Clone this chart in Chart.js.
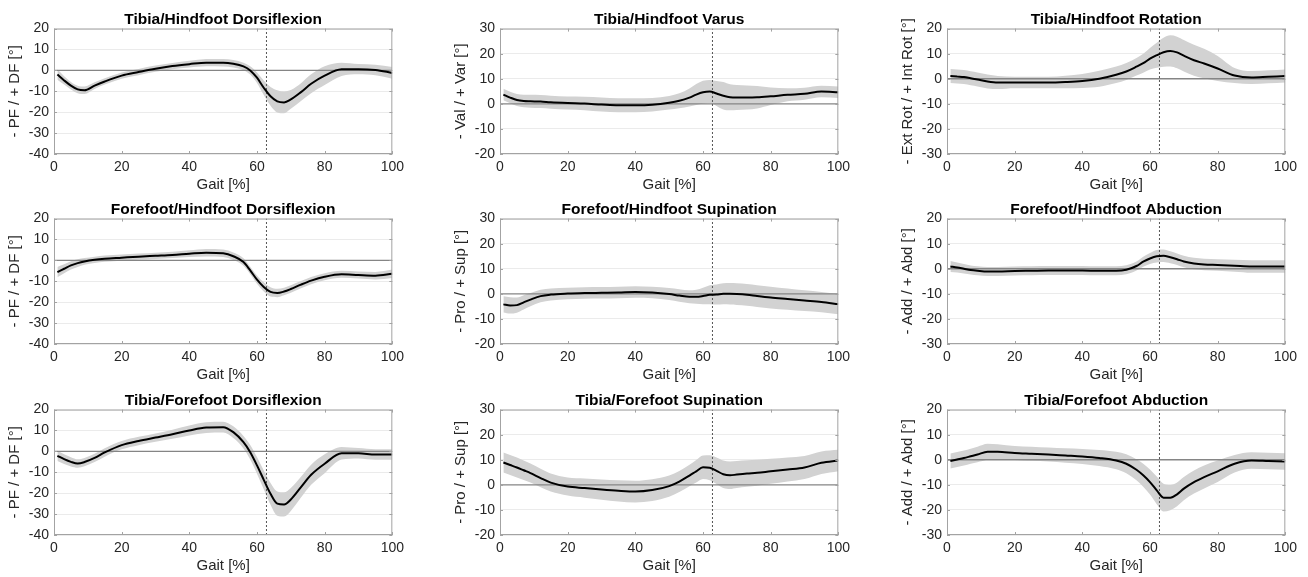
<!DOCTYPE html>
<html>
<head>
<meta charset="utf-8">
<title>Foot kinematics</title>
<script src="https://cdn.jsdelivr.net/npm/chart.js@4.4.0/dist/chart.umd.min.js"></script>
<style>
	body { margin: 0; background: #fff; width: 1308px; height: 577px; position: relative; overflow: hidden; }
	.panel { position: absolute; }
</style>
</head>
<body>
<script>
// gait cycle samples (% of stride)
var gaitPct = [1, 3, 5, 7, 9, 12, 15, 20, 25, 30, 35, 40, 45, 50, 53, 56, 58, 60, 62, 64, 66, 68, 70, 73, 76, 80, 85, 90, 95, 100];
var toeOffPct = 62.8;
var xTicks = [0, 20, 40, 60, 80, 100];

var titles = [
	"Tibia/Hindfoot Dorsiflexion", "Tibia/Hindfoot Varus", "Tibia/Hindfoot Rotation",
	"Forefoot/Hindfoot Dorsiflexion", "Forefoot/Hindfoot Supination", "Forefoot/Hindfoot Abduction",
	"Tibia/Forefoot Dorsiflexion", "Tibia/Forefoot Supination", "Tibia/Forefoot Abduction"
];
var yLabels = [
	"- PF / + DF [°]", "- Val / + Var [°]", "- Ext Rot / + Int Rot [°]",
	"- PF / + DF [°]", "- Pro / + Sup [°]", "- Add / + Abd [°]",
	"- PF / + DF [°]", "- Pro / + Sup [°]", "- Add / + Abd [°]"
];
var yMins = [-40, -20, -30, -40, -20, -30, -40, -20, -30];
var yMaxs = [20, 30, 20, 20, 30, 20, 20, 30, 20];

// mean curves and standard deviation (degrees)
var thDfMean = [-2, -4.8, -7.3, -9.1, -9.5, -7.3, -5.3, -2.5, -0.8, 0.8, 2.1, 3.0, 3.7, 3.7, 3.2, 1.9, 0, -3.5, -8.3, -12.4, -14.8, -15.3, -13.9, -10.4, -6.4, -2.5, 0.5, 0.6, 0.2, -1.2];
var thDfSd = [2.5, 2, 1.8, 1.8, 1.8, 1.6, 1.5, 1.5, 1.5, 1.5, 1.5, 1.6, 1.7, 1.8, 1.8, 1.8, 2, 2.5, 3.5, 4.5, 5.3, 5.2, 4.5, 4.3, 4.5, 4.5, 3.2, 2.5, 2.5, 2.8];

var thVarMean = [3.7, 2.5, 1.5, 1.1, 1.0, 0.9, 0.6, 0.3, 0.1, -0.3, -0.6, -0.6, -0.4, 0.4, 1.2, 2.5, 3.7, 4.6, 4.9, 4.1, 3.2, 2.6, 2.5, 2.5, 2.6, 3.0, 3.6, 4.0, 4.9, 4.6];
var thVarSd = [2.3, 2.3, 2.4, 2.5, 2.6, 2.6, 2.6, 2.6, 2.7, 2.8, 2.8, 2.8, 2.7, 2.7, 3, 3.6, 4.2, 4.6, 4.6, 5, 5.5, 5.2, 5, 4.8, 4.5, 3.5, 2.6, 2.4, 2.3, 2.3];

var thRotMean = [1.1, 0.9, 0.7, 0.2, -0.3, -1.1, -1.5, -1.5, -1.5, -1.5, -1.3, -0.9, 0, 1.6, 2.9, 4.8, 6.2, 8.0, 9.4, 10.6, 11.1, 10.5, 9.2, 7.4, 6.1, 4.1, 1.3, 0.5, 0.8, 1.1];
var thRotSd = [2.8, 2.8, 2.8, 2.8, 2.8, 2.8, 2.6, 2.3, 2.3, 2.3, 2.5, 2.8, 3.2, 3.3, 3.4, 3.5, 3.8, 4.3, 5, 5.8, 6.2, 6.3, 6.3, 6.2, 5.9, 5, 3, 2.6, 2.6, 2.6];

var fhDfMean = [-5.6, -4.0, -2.4, -1.3, -0.5, 0.3, 0.8, 1.3, 1.8, 2.2, 2.6, 3.2, 3.7, 3.4, 2.0, -0.8, -4.8, -9.2, -12.7, -15.1, -15.6, -14.9, -13.7, -11.6, -9.7, -7.8, -6.6, -7.0, -7.3, -6.4];
var fhDfSd = [2.5, 2.2, 2, 1.8, 1.6, 1.5, 1.5, 1.5, 1.5, 1.5, 1.5, 1.6, 1.8, 1.8, 1.8, 1.8, 1.8, 2, 2.2, 2.2, 2, 1.8, 1.8, 1.7, 1.7, 1.7, 1.7, 1.7, 1.8, 2];

var fhSupMean = [-4.2, -4.6, -4.5, -3.4, -2.3, -0.9, -0.3, 0.1, 0.3, 0.4, 0.5, 0.7, 0.5, -0.1, -0.7, -1.2, -1.2, -0.9, -0.4, -0.3, 0, 0, -0.1, -0.4, -0.9, -1.5, -2.1, -2.7, -3.3, -4.1];
var fhSupSd = [3.2, 3.2, 3, 2.8, 2.6, 2.5, 2.4, 2.3, 2.3, 2.3, 2.3, 2.3, 2.3, 2.4, 2.5, 2.6, 2.8, 3.3, 3.8, 4, 4.2, 4.3, 4.3, 4.3, 4.3, 4.3, 4.2, 4.1, 4, 4];

var fhAbdMean = [0.9, 0.5, 0, -0.5, -0.8, -1.1, -1.1, -0.9, -0.8, -0.7, -0.7, -0.7, -0.8, -0.8, -0.4, 1.1, 2.8, 4.1, 5.0, 5.2, 4.6, 3.8, 2.9, 2.1, 1.7, 1.5, 1.2, 0.9, 0.9, 0.9];
var fhAbdSd = [2.2, 2, 1.9, 1.8, 1.8, 1.8, 1.8, 1.8, 1.8, 1.8, 1.8, 1.8, 1.8, 1.8, 1.8, 1.8, 2, 2.2, 2.5, 2.5, 2.4, 2.3, 2.3, 2.3, 2.3, 2.3, 2.4, 2.5, 2.5, 2.5];

var tfDfMean = [-2.1, -3.7, -5.0, -5.8, -5.1, -3.1, -0.5, 3.0, 5.0, 6.6, 8.2, 10.0, 11.4, 11.6, 9.2, 4.4, -0.4, -6.7, -13.6, -20.3, -25.0, -25.4, -23.0, -17.1, -11.2, -5.9, -0.9, -0.9, -1.5, -1.5];
var tfDfSd = [2.5, 2.3, 2.2, 2, 2, 2, 2, 2, 2, 2, 2.2, 2.4, 2.6, 2.6, 2.8, 3, 3.5, 4, 4.5, 5.2, 5.8, 5.8, 5.5, 5, 4.8, 4.5, 3, 2.5, 2.5, 2.5];

var tfSupMean = [8.9, 7.9, 6.9, 5.8, 4.7, 2.7, 0.9, -0.7, -1.3, -1.9, -2.4, -2.7, -2.1, -0.5, 1.3, 3.7, 5.4, 7.0, 6.8, 5.6, 4.2, 3.8, 4.1, 4.5, 4.8, 5.4, 6.1, 6.9, 8.8, 9.7];
var tfSupSd = [4, 4, 4, 3.9, 3.8, 3.7, 3.6, 3.6, 3.8, 4, 4.2, 4.3, 4.3, 4.2, 4.2, 4.3, 4.5, 4.7, 5, 5.3, 5.5, 5.5, 5.4, 5.3, 5.2, 5, 4.8, 4.6, 4.5, 4.3];

var tfAbdMean = [-0.5, 0.1, 0.7, 1.4, 2.1, 3.2, 3.2, 2.7, 2.4, 2.1, 1.7, 1.3, 0.7, -0.3, -1.6, -4.0, -6.2, -8.9, -12.2, -15.1, -15.1, -13.8, -11.5, -8.9, -6.9, -4.6, -1.6, -0.3, -0.5, -0.7];
var tfAbdSd = [3, 3, 3, 3, 3.1, 3.2, 3, 2.8, 2.8, 2.8, 2.9, 3, 3.2, 3.5, 3.8, 4.2, 4.6, 5, 5.5, 5.5, 5, 4.7, 4.6, 4.6, 4.6, 4.3, 3.5, 3.3, 3.3, 3.3];

var means = [thDfMean, thVarMean, thRotMean, fhDfMean, fhSupMean, fhAbdMean, tfDfMean, tfSupMean, tfAbdMean];
var sds = [thDfSd, thVarSd, thRotSd, fhDfSd, fhSupSd, fhAbdSd, tfDfSd, tfSupSd, tfAbdSd];

// grid placement of the nine panels
var colLeft = [0, 446, 893];
var rowTop = [0, 190, 381];
var panelW = 409, panelH = 195;
var fontFamily = "'Liberation Sans', Arial, Helvetica, sans-serif";

// axes box with small inward ticks, like MATLAB "box on"
var boxPlugin = {
	id: "axesBox",
	afterDraw: function(chart) {
		var a = chart.chartArea, c = chart.ctx;
		var xs = chart.scales.x, ys = chart.scales.y;
		c.save();
		c.strokeStyle = "#a3a3a3";
		c.lineWidth = 1;
		c.strokeRect(a.left + 0.5, a.top + 0.5, a.right - a.left - 1, a.bottom - a.top - 1);
		c.beginPath();
		xs.ticks.forEach(function(t) {
			var px = Math.round(xs.getPixelForValue(t.value)) + 0.5;
			c.moveTo(px, a.top); c.lineTo(px, a.top + 3);
			c.moveTo(px, a.bottom); c.lineTo(px, a.bottom - 3);
		});
		ys.ticks.forEach(function(t) {
			var py = Math.round(ys.getPixelForValue(t.value)) + 0.5;
			c.moveTo(a.left, py); c.lineTo(a.left + 3, py);
			c.moveTo(a.right, py); c.lineTo(a.right - 3, py);
		});
		c.stroke();
		c.restore();
	}
};

for (var p = 0; p < 9; p++) {
	var div = document.createElement("div");
	div.className = "panel";
	div.style.left = colLeft[p % 3] + "px";
	div.style.top = rowTop[Math.floor(p / 3)] + "px";
	div.style.width = panelW + "px";
	div.style.height = panelH + "px";
	var canvas = document.createElement("canvas");
	canvas.width = panelW;
	canvas.height = panelH;
	div.appendChild(canvas);
	document.body.appendChild(div);

	var mean = means[p], sd = sds[p];
	var meanPts = [], upPts = [], loPts = [];
	for (var i = 0; i < gaitPct.length; i++) {
		meanPts.push({x: gaitPct[i], y: mean[i]});
		upPts.push({x: gaitPct[i], y: mean[i] + sd[i]});
		loPts.push({x: gaitPct[i], y: mean[i] - sd[i]});
	}

	var data = {
		datasets: [
			{
				label: "mean",
				data: meanPts,
				borderColor: "#000",
				borderWidth: 2,
				pointRadius: 0,
				cubicInterpolationMode: "monotone",
				fill: false,
				order: 0
			},
			{
				label: "toe off",
				data: [{x: toeOffPct, y: yMins[p]}, {x: toeOffPct, y: yMaxs[p]}],
				borderColor: "#555",
				borderWidth: 1,
				borderDash: [2, 2],
				pointRadius: 0,
				fill: false,
				order: 1
			},
			{
				label: "zero",
				data: [{x: 0, y: 0}, {x: 100, y: 0}],
				borderColor: "#858585",
				borderWidth: 1.3,
				pointRadius: 0,
				fill: false,
				order: 2
			},
			{
				label: "+1 SD",
				data: upPts,
				borderColor: "rgba(0,0,0,0)",
				borderWidth: 0,
				pointRadius: 0,
				cubicInterpolationMode: "monotone",
				backgroundColor: "#d2d2d2",
				fill: 4,
				order: 3
			},
			{
				label: "-1 SD",
				data: loPts,
				borderColor: "rgba(0,0,0,0)",
				borderWidth: 0,
				pointRadius: 0,
				cubicInterpolationMode: "monotone",
				fill: false,
				order: 4
			}
		]
	};

	var options = {
		responsive: false,
		animation: false,
		events: [],
		layout: { padding: { top: 4, left: 0, right: 16, bottom: 0 } },
		plugins: {
			legend: { display: false },
			tooltip: { enabled: false },
			title: {
				display: true,
				text: titles[p],
				fullSize: false,
				color: "#000",
				font: { family: fontFamily, size: 15.5, weight: "bold" },
				padding: { top: 6, bottom: 0 }
			}
		},
		scales: {
			x: {
				type: "linear",
				min: 0,
				max: 100,
				afterBuildTicks: function(scale) {
					scale.ticks = xTicks.map(function(v) { return {value: v}; });
				},
				afterFit: function(scale) { scale.height = 41; },
				grid: { display: false, drawTicks: false },
				border: { display: false },
				ticks: { color: "#262626", padding: 5, maxRotation: 0, font: { family: fontFamily, size: 14 } },
				title: {
					display: true,
					text: "Gait [%]",
					color: "#262626",
					font: { family: fontFamily, size: 15 },
					padding: { top: 0, bottom: 1 }
				}
			},
			y: {
				type: "linear",
				min: yMins[p],
				max: yMaxs[p],
				afterFit: function(scale) { scale.width = 54; },
				grid: {
					drawTicks: false,
					color: function(ctx) { return ctx.tick && ctx.tick.value === 0 ? "rgba(0,0,0,0)" : "#ebebeb"; }
				},
				border: { display: false },
				ticks: { stepSize: 10, color: "#262626", padding: 5, font: { family: fontFamily, size: 14 } },
				title: {
					display: true,
					text: yLabels[p],
					color: "#262626",
					font: { family: fontFamily, size: 15 },
					padding: { top: 6, bottom: 0 }
				}
			}
		}
	};

	new Chart(canvas, {
		type: "line",
		data: data,
		options: options,
		plugins: [boxPlugin]
	});
}
</script>
</body>
</html>
